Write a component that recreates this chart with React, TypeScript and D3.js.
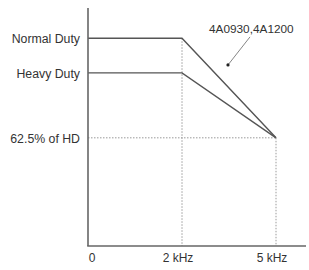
import * as d3 from 'd3'
import { useEffect, useRef } from 'react'

// carrier frequency ticks (schematic, evenly spaced)
const freqTicks = ['0', '2 kHz', '5 kHz']
// output current levels, % of heavy duty rating
const levelLabels = ['Normal Duty', 'Heavy Duty', '62.5% of HD']
const levelValues = [120, 100, 62.5]
const normalDuty = [120, 120, 62.5]
const heavyDuty = [100, 100, 62.5]
const modelLabel = '4A0930,4A1200'

const width = 309
const height = 270

export default function App() {
  const ref = useRef<SVGSVGElement>(null)

  useEffect(() => {
    const svg = d3.select(ref.current)
    svg.selectAll('*').remove()

    const x = d3.scalePoint<string>().domain(freqTicks).range([88, 276])
    const y = d3.scaleLinear().domain([0, 137.5]).range([246, 8])
    const font = 'Liberation Sans, Arial, sans-serif'

    // dotted guides
    const guides = svg.append('g')
      .attr('stroke', '#9a9a9a')
      .attr('stroke-width', 1)
      .attr('stroke-dasharray', '1.5,1.5')
      .attr('fill', 'none')
    guides.append('line')
      .attr('x1', x('2 kHz')!).attr('x2', x('2 kHz')!)
      .attr('y1', y(normalDuty[1])).attr('y2', y(0))
    guides.append('line')
      .attr('x1', x('5 kHz')!).attr('x2', x('5 kHz')!)
      .attr('y1', y(normalDuty[2])).attr('y2', y(0))
    guides.append('line')
      .attr('x1', x('0')!).attr('x2', x('5 kHz')!)
      .attr('y1', y(levelValues[2])).attr('y2', y(levelValues[2]))

    // derating curves
    const line = d3.line<number>()
      .x((_, i) => x(freqTicks[i])!)
      .y(d => y(d))
    svg.selectAll('path.curve')
      .data([normalDuty, heavyDuty])
      .join('path')
      .attr('class', 'curve')
      .attr('fill', 'none')
      .attr('stroke', '#555')
      .attr('stroke-width', 1.4)
      .attr('d', d => line(d))

    // axes
    svg.append('line')
      .attr('x1', x('0')!).attr('x2', x('0')!)
      .attr('y1', y(137.5)).attr('y2', y(0))
      .attr('stroke', '#666').attr('stroke-width', 1.6)
    svg.append('line')
      .attr('x1', x('0')! - 0.8).attr('x2', 306)
      .attr('y1', y(0)).attr('y2', y(0))
      .attr('stroke', '#666').attr('stroke-width', 1.6)

    // y labels
    svg.selectAll('text.ylab')
      .data(levelLabels)
      .join('text')
      .attr('class', 'ylab')
      .attr('x', x('0')! - 8)
      .attr('y', (_, i) => y(levelValues[i]) + 5)
      .attr('text-anchor', 'end')
      .attr('font-family', font)
      .attr('font-size', 12.3)
      .attr('fill', '#333')
      .text(d => d)

    // x labels
    svg.selectAll('text.xlab')
      .data(freqTicks)
      .join('text')
      .attr('class', 'xlab')
      .attr('x', d => x(d)! + (d === '0' ? 4 : -4))
      .attr('y', y(0) + 16)
      .attr('text-anchor', 'middle')
      .attr('font-family', font)
      .attr('font-size', 12)
      .attr('fill', '#333')
      .text(d => d)

    // model annotation with leader
    const dotX = (x('2 kHz')! + x('5 kHz')!) / 2 - 1
    const dotY = y(104.6)
    svg.append('line')
      .attr('x1', dotX).attr('y1', dotY)
      .attr('x2', dotX + 22).attr('y2', y(120.8))
      .attr('stroke', '#666').attr('stroke-width', 0.8)
    svg.append('circle')
      .attr('cx', dotX).attr('cy', dotY).attr('r', 1.6)
      .attr('fill', '#222')
    svg.append('text')
      .attr('x', dotX - 19)
      .attr('y', y(120.8) - 4)
      .attr('font-family', font)
      .attr('font-size', 11.8)
      .attr('fill', '#333')
      .text(modelLabel)
  }, [])

  return (
    <svg
      ref={ref}
      width={width}
      height={height}
      style={{ position: 'absolute', left: 0, top: 0, background: '#fff' }}
    />
  )
}
